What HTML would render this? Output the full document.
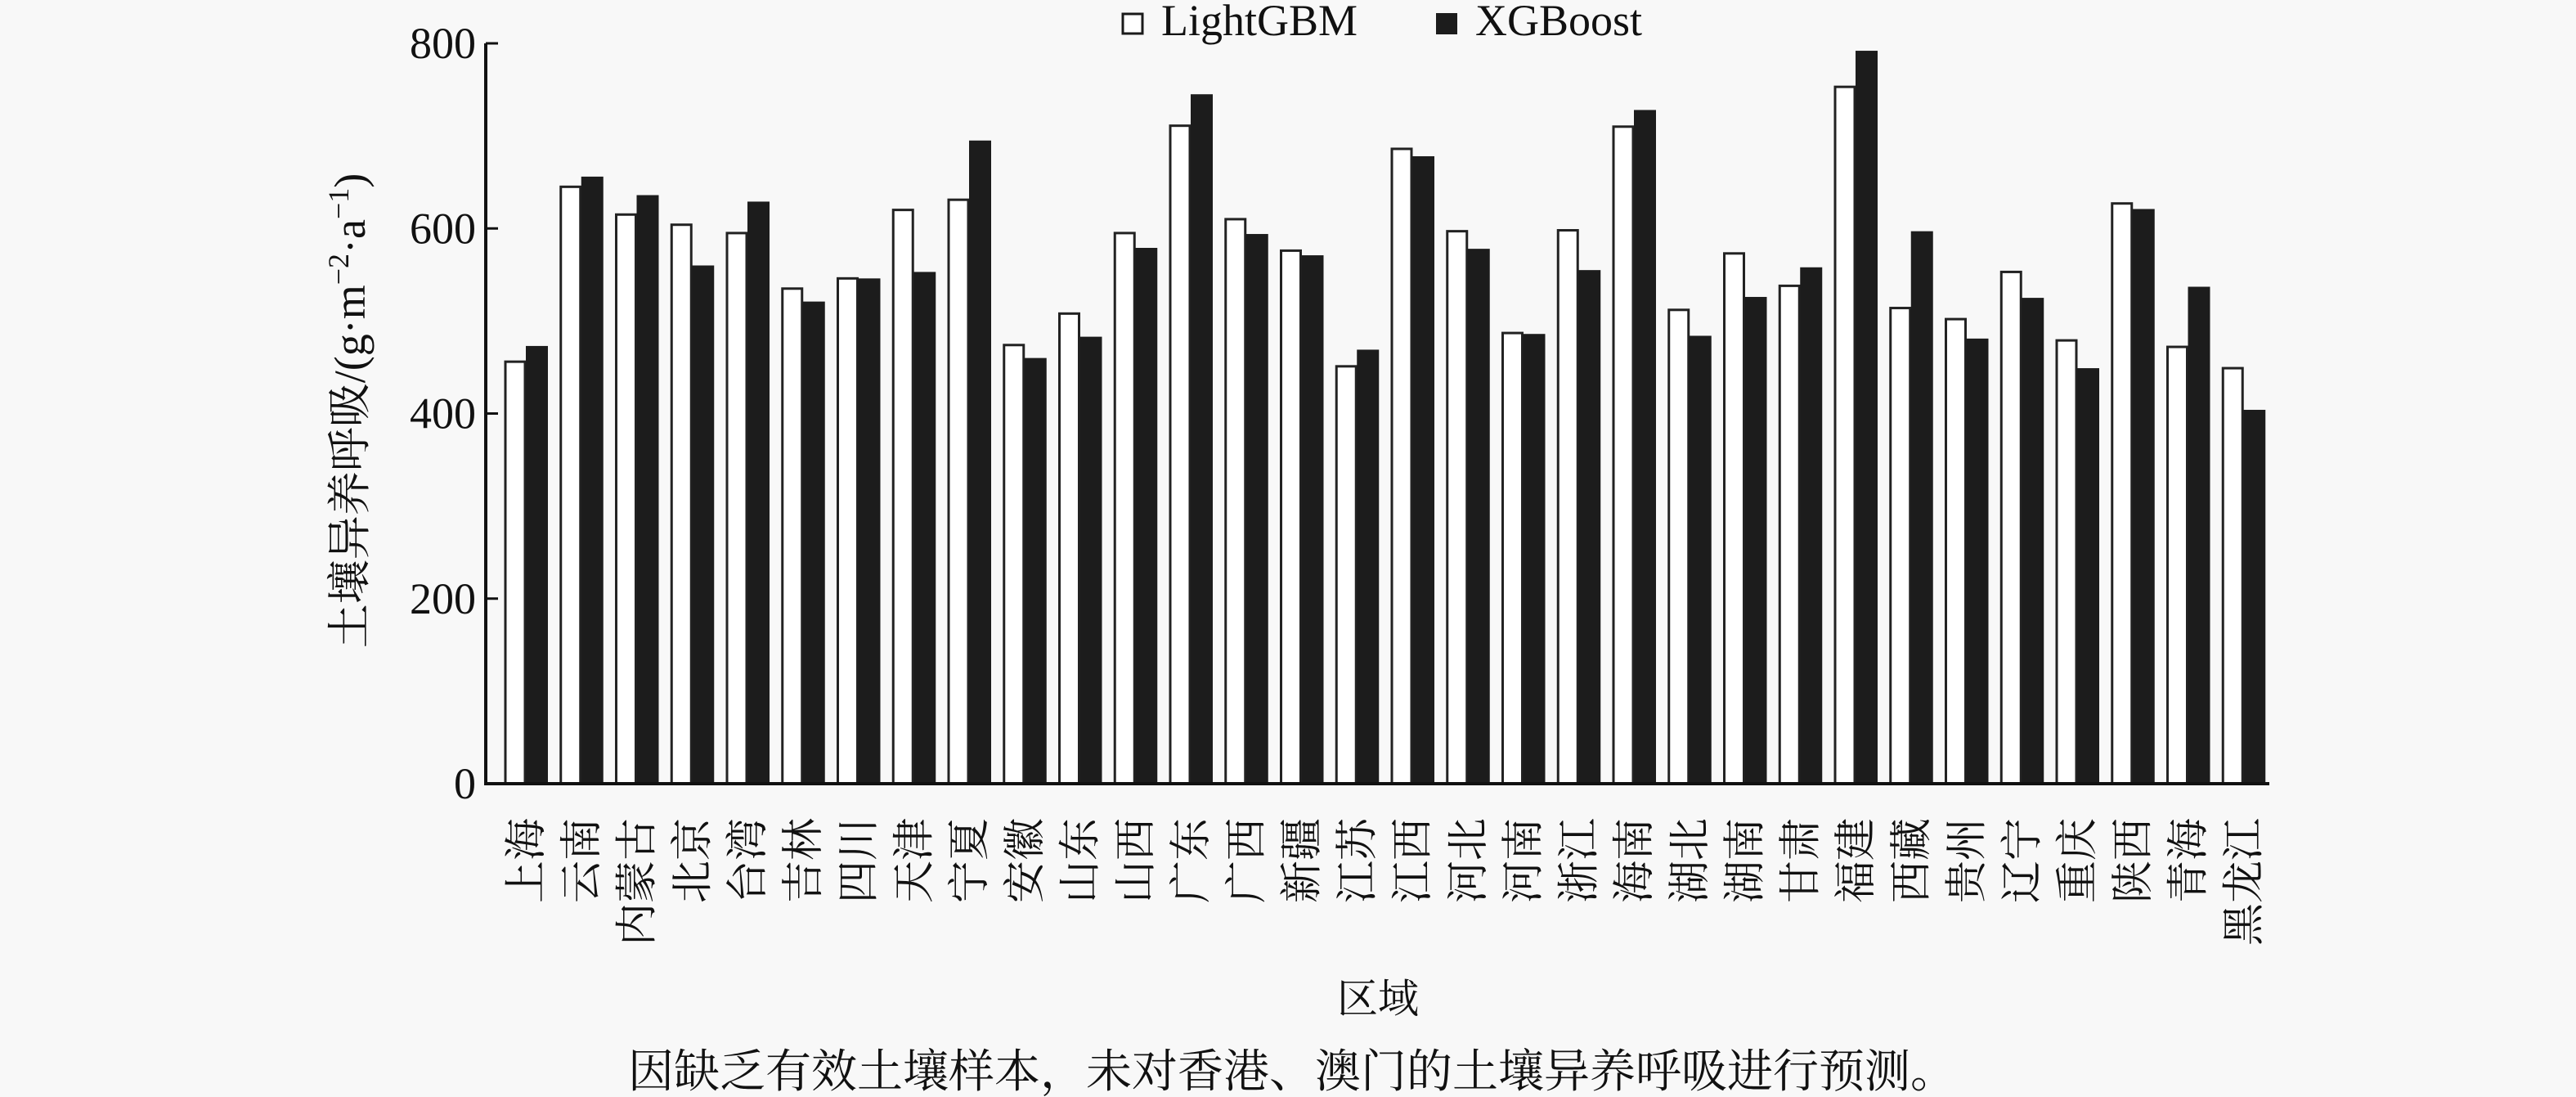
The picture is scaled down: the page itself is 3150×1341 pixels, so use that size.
<!DOCTYPE html>
<html><head><meta charset="utf-8"><style>
html,body{margin:0;padding:0;background:#f8f8f8;}
svg{display:block;}
text{font-family:"Liberation Serif","Noto Serif CJK SC","Noto Sans CJK SC",serif;fill:#111;}
</style></head><body>
<svg id="chart" width="3150" height="1341" viewBox="0 0 3150 1341" xmlns="http://www.w3.org/2000/svg">
<rect width="3150" height="1341" fill="#f8f8f8"/>
<g id="bars"></g>
<g id="axes"></g>
<g>
  <rect x="1373" y="17" width="24" height="24" fill="#fff" stroke="#1a1a1a" stroke-width="3"/>
  <text x="1420" y="43" font-size="54">LightGBM</text>
  <rect x="1756" y="16" width="26" height="26" fill="#1c1c1c"/>
  <text x="1804" y="43" font-size="54">XGBoost</text>
</g>
<text transform="translate(446,502) rotate(-90)" text-anchor="middle" font-size="54">土壤异养呼吸/(g·m<tspan dy="-20" font-size="36">−2</tspan><tspan dy="20">·a</tspan><tspan dy="-20" font-size="36">−1</tspan><tspan dy="20">)</tspan></text>
<text x="1685" y="1238" text-anchor="middle" font-size="50">区域</text>
<text x="1580" y="1329" text-anchor="middle" font-size="56">因缺乏有效土壤样本，未对香港、澳门的土壤异养呼吸进行预测。</text>
</svg>
<script>
const categories = ["上海","云南","内蒙古","北京","台湾","吉林","四川","天津","宁夏","安徽","山东","山西","广东","广西","新疆","江苏","江西","河北","河南","浙江","海南","湖北","湖南","甘肃","福建","西藏","贵州","辽宁","重庆","陕西","青海","黑龙江"];
const lightgbm = [456,645,615,604,595,535,546,620,631,474,508,595,711,610,576,451,686,597,487,598,710,512,573,538,753,514,502,553,479,627,472,449];
const xgboost = [473,656,636,560,629,521,546,553,695,460,483,579,745,594,571,469,678,578,486,555,728,484,526,558,792,597,481,525,449,621,537,404];
const yTicks = [0,200,400,600,800];

const NS = "http://www.w3.org/2000/svg";
const X0 = 594, X1 = 2775, Y0 = 958, YTOP = 53, VMAX = 800;
const GROUP_START = 617, GROUP_STEP = 67.75, BW1 = 26, BW2 = 27;
function yScale(v){ return Y0 - v/VMAX*(Y0-YTOP); }
function xGroup(i){ return GROUP_START + i*GROUP_STEP; }
function mk(tag, attrs){ const e=document.createElementNS(NS,tag); for(const k in attrs) e.setAttribute(k,attrs[k]); return e; }

const bars = document.getElementById('bars');
categories.forEach((c,i)=>{
  const x = xGroup(i);
  const y1 = yScale(lightgbm[i]);
  const r1 = mk('rect',{x:x+1,y:y1,width:BW1-2,height:Y0-y1,fill:'#ffffff',stroke:'#222',"stroke-width":3});
  
  
  bars.appendChild(r1);
  const y2 = yScale(xgboost[i]);
  const r2 = mk('rect',{x:x+BW1,y:y2,width:BW2,height:Y0-y2,fill:'#1c1c1c'});
  
  
  bars.appendChild(r2);
  const cx = x + BW1;
  const t = mk('text',{transform:'translate('+(cx+18)+',1000) rotate(-90)','text-anchor':'end','font-size':52});
  t.textContent = c;
  
  
  bars.appendChild(t);
});

const axes = document.getElementById('axes');
const ya = mk('line',{x1:X0,y1:YTOP,x2:X0,y2:Y0+1,stroke:'#111',"stroke-width":4});


axes.appendChild(ya);
const xa = mk('line',{x1:X0-2,y1:Y0,x2:X1,y2:Y0,stroke:'#111',"stroke-width":4});


axes.appendChild(xa);
yTicks.forEach(v=>{
  const y = yScale(v);
  const tk = mk('line',{x1:X0,y1:y,x2:X0+15,y2:y,stroke:'#111',"stroke-width":3});
  
  
  axes.appendChild(tk);
  const tl = mk('text',{x:X0-12,y:y+18,'text-anchor':'end','font-size':54});
  tl.textContent = String(v);
  
  
  axes.appendChild(tl);
});
</script>
</body></html>
